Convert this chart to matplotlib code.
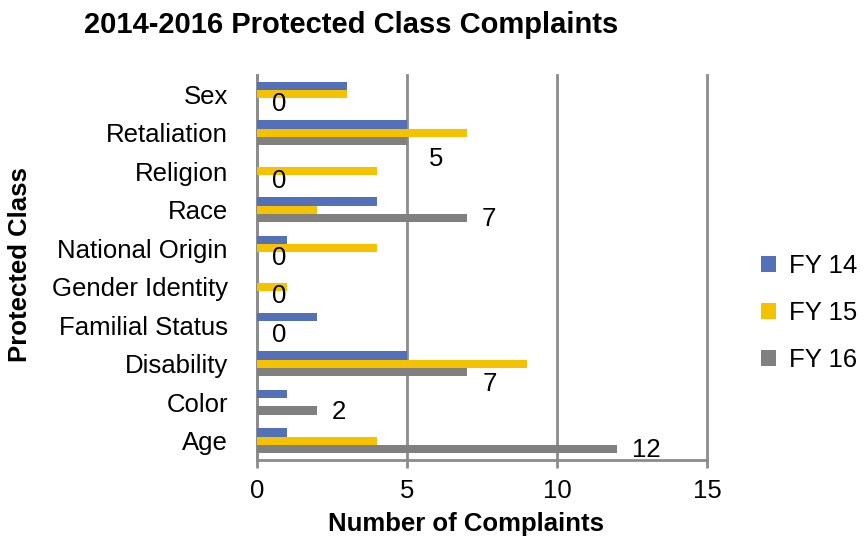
import numpy as np
import matplotlib.pyplot as plt

plt.rcParams['font.family'] = ['Liberation Sans', 'DejaVu Sans']

# Data
classes = ['Age', 'Color', 'Disability', 'Familial Status', 'Gender Identity',
           'National Origin', 'Race', 'Religion', 'Retaliation', 'Sex']
fy14 = [1, 1, 5, 2, 0, 1, 4, 0, 5, 3]
fy15 = [4, 0, 9, 0, 1, 4, 2, 4, 7, 3]
fy16 = [12, 2, 7, 0, 0, 0, 7, 0, 5, 0]
series_names = ['FY 14', 'FY 15', 'FY 16']
x_ticks = [0, 5, 10, 15]

colors = ['#5470B8', '#F5C200', '#808080']
grid_col = '#8C8C8C'
fs = 18.5

fig = plt.figure(figsize=(8.65, 5.38), dpi=100)
ax = fig.add_axes([257 / 865, 1 - 460 / 538, 450 / 865, 385 / 538])

y = np.arange(len(classes))
h = 0.22
for i, (vals, name) in enumerate(zip([fy14, fy15, fy16], series_names)):
    ax.barh(y + (1 - i) * h, vals, height=h, color=colors[i], label=name, zorder=3)

# data labels for FY 16 (a couple were nudged by hand in the original)
nudge = {'Retaliation': (22, -18), 'Disability': (16, -12)}
for yi, (cls, v) in enumerate(zip(classes, fy16)):
    dx, dy = nudge.get(cls, (15, -1))
    ax.annotate(str(v), xy=(v, yi - h), xytext=(dx, dy), textcoords='offset pixels',
                ha='left', va='center', fontsize=fs, zorder=4)

ax.set_xlim(0, 15)
ax.set_ylim(-0.5, 9.5)
ax.set_xticks(x_ticks)
ax.set_yticks(y)
ax.set_yticklabels(classes)
ax.xaxis.grid(True, color=grid_col, linewidth=2, zorder=1)
for gl in ax.get_xgridlines():
    gl.set_clip_on(False)
ax.tick_params(axis='x', direction='out', length=6, width=2, color=grid_col,
               labelsize=fs, pad=8)
ax.tick_params(axis='y', length=0, labelsize=fs, pad=21)
for s in ['top', 'right']:
    ax.spines[s].set_visible(False)
for s in ['left', 'bottom']:
    ax.spines[s].set_color(grid_col)
    ax.spines[s].set_linewidth(2)

fig.text(466 / 865, 1 - 524 / 538, 'Number of Complaints', fontsize=fs,
         fontweight='bold', ha='center', va='center')
fig.text(20 / 865, 1 - 265 / 538, 'Protected Class', rotation=90, fontsize=fs,
         fontweight='bold', ha='center', va='center')
fig.text(351 / 865, 1 - 25 / 538, '2014-2016 Protected Class Complaints',
         fontsize=21, fontweight='bold', ha='center', va='center')

ax.legend(loc='center left', bbox_to_anchor=(761 / 865, 1 - 313 / 538),
          bbox_transform=fig.transFigure, frameon=False, fontsize=fs,
          handlelength=0.6, handleheight=0.6, handletextpad=0.5, labelspacing=0.9,
          borderpad=0, borderaxespad=0)

fig.savefig('out.png', dpi=100)
